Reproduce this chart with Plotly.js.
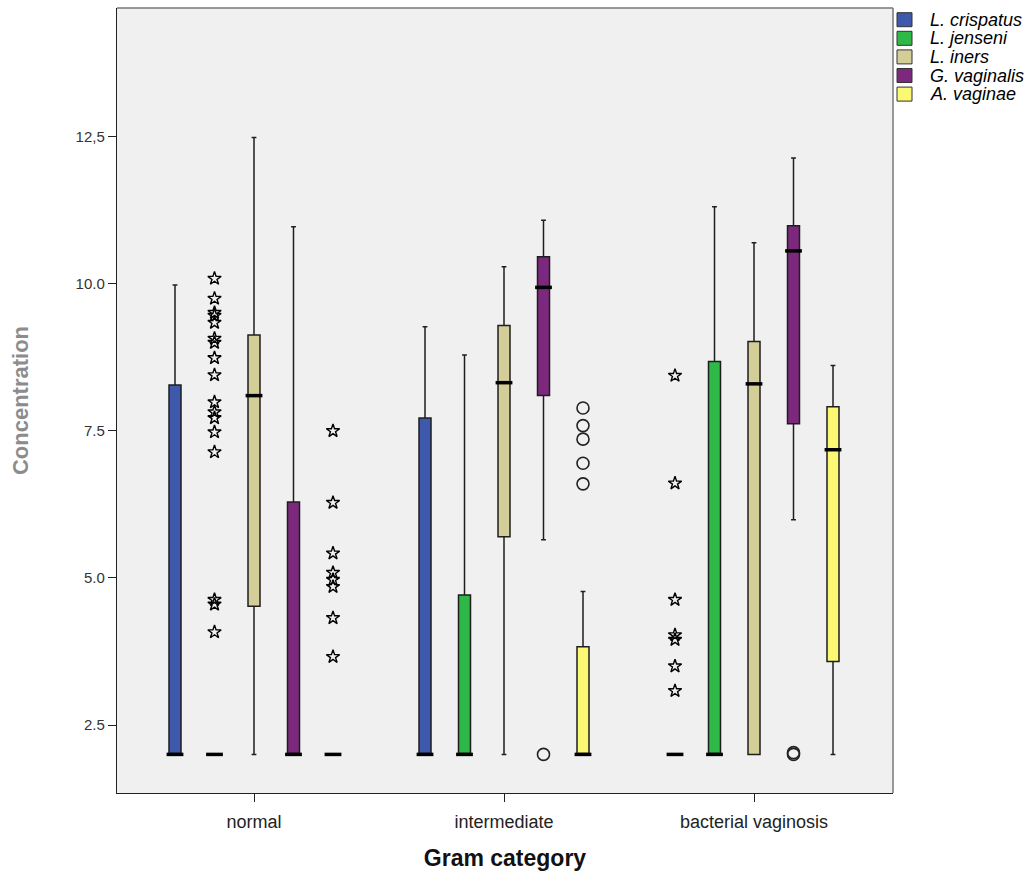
<!DOCTYPE html>
<html>
<head>
<meta charset="utf-8">
<script src="https://cdn.plot.ly/plotly-3.0.1.min.js"></script>
<style>html,body{margin:0;padding:0;background:#fff;}</style>
</head>
<body>
<div id="chart" style="width:1032px;height:876px;"></div>
<script>
// Gram categories on the x axis
const categories = ['normal', 'intermediate', 'bacterial vaginosis'];
const species = ['L. crispatus', 'L. jenseni', 'L. iners', 'G. vaginalis', 'A. vaginae'];
const colors = ['#3E58AC', '#2EB848', '#D3CE97', '#7C287D', '#FBF873'];

// Box statistics per species, one value per Gram category
const crispatusStats = {lower: [2, 2, 2], q1: [2, 2, 2], median: [2, 2, 2], q3: [8.28, 7.72, 2], upper: [9.98, 9.27, 2]};
const jenseniStats   = {lower: [2, 2, 2], q1: [2, 2, 2], median: [2, 2, 2], q3: [2, 4.71, 8.68], upper: [2, 8.79, 11.31]};
const inersStats     = {lower: [2, 2, 2], q1: [4.52, 5.70, 2], median: [8.10, 8.32, 8.30], q3: [9.13, 9.29, 9.02], upper: [12.49, 10.29, 10.70]};
const vaginalisStats = {lower: [2, 5.65, 5.99], q1: [2, 8.10, 7.62], median: [2, 9.94, 10.56], q3: [6.29, 10.46, 10.99], upper: [10.97, 11.08, 12.14]};
const vaginaeStats   = {lower: [2, 2, 2], q1: [2, 2, 3.58], median: [2, 2, 7.18], q3: [2, 3.83, 7.91], upper: [2, 4.77, 8.61]};
const allStats = [crispatusStats, jenseniStats, inersStats, vaginalisStats, vaginaeStats];

// Extreme values (stars), per species then per category
const crispatusExtremes = [[], [], [8.44, 6.61, 4.63, 4.03, 3.95, 3.50, 3.08]];
const jenseniExtremes   = [[10.09, 9.75, 9.51, 9.46, 9.34, 9.07, 9.00, 8.74, 8.45, 7.99, 7.82, 7.72, 7.48, 7.14, 4.63, 4.55, 4.08], [], []];
const vaginaeExtremes   = [[7.50, 6.28, 5.42, 5.09, 4.97, 4.85, 4.32, 3.66], [], []];
// Outliers (circles)
const vaginalisOutliers = [[], [2.0], [2.0, 2.03]];
const vaginaeOutliers   = [[], [7.89, 7.59, 7.36, 6.95, 6.60], []];

const extremes = [crispatusExtremes, jenseniExtremes, [[], [], []], [[], [], []], vaginaeExtremes];
const outliers = [[[], [], []], [[], [], []], [[], [], []], vaginalisOutliers, vaginaeOutliers];

// Grouped boxes along a numeric category axis
const groupStep = 0.158;
const boxWidth = 0.048;
function positions(s) {
  return categories.map((c, i) => i + (s - 2) * groupStep);
}

const FONT = '"Liberation Sans", Arial, sans-serif';
const traces = [];
species.forEach((name, s) => {
  const st = allStats[s];
  traces.push({
    type: 'box',
    name: name,
    x: positions(s),
    q1: st.q1, median: st.median, q3: st.q3,
    lowerfence: st.lower, upperfence: st.upper,
    width: boxWidth,
    whiskerwidth: 0.4,
    boxpoints: false,
    fillcolor: colors[s],
    line: {color: '#1e1e1e', width: 1.5},
    showlegend: false,
    hoverinfo: 'skip'
  });
});

// Thick median bars
const medX = [], medY = [];
species.forEach((name, s) => {
  const px = positions(s);
  allStats[s].median.forEach((m, i) => { medX.push(px[i]); medY.push(m); });
});
traces.push({
  type: 'scatter', mode: 'markers', x: medX, y: medY, showlegend: false, hoverinfo: 'skip',
  marker: {symbol: 'line-ew-open', size: 12, color: '#000', line: {color: '#000', width: 3.5}}
});

// Extremes and outliers
const starX = [], starY = [], circX = [], circY = [];
species.forEach((name, s) => {
  const px = positions(s);
  categories.forEach((c, i) => {
    extremes[s][i].forEach(v => { starX.push(px[i]); starY.push(v); });
    outliers[s][i].forEach(v => { circX.push(px[i]); circY.push(v); });
  });
});
traces.push({
  type: 'scatter', mode: 'markers', x: starX, y: starY, showlegend: false, hoverinfo: 'skip',
  marker: {symbol: 'star-open', size: 10, color: '#000', line: {color: '#000', width: 1.4}}
});
traces.push({
  type: 'scatter', mode: 'markers', x: circX, y: circY, showlegend: false, hoverinfo: 'skip',
  marker: {symbol: 'circle-open', size: 12, color: '#222', line: {color: '#222', width: 1.6}}
});

// Top and right edges of the plot frame, drawn lighter than the axes
const shapes = [
  {type: 'line', xref: 'paper', yref: 'paper', x0: 0, x1: 1, y0: 1, y1: 1, line: {color: '#777', width: 1.5}},
  {type: 'line', xref: 'paper', yref: 'paper', x0: 1, x1: 1, y0: 0, y1: 1, line: {color: '#777', width: 1.5}}
];
// Legend key: colour swatches beside the plot frame, one row per species
const annotations = [];
const rowTop = 11.7, rowStep = 18.6;
species.forEach((name, s) => {
  const cy = rowTop + rowStep * s;
  shapes.push({
    type: 'rect', xref: 'paper', yref: 'paper',
    xsizemode: 'pixel', ysizemode: 'pixel', xanchor: 1, yanchor: 1,
    x0: 4, x1: 19, y0: -(cy - 7), y1: -(cy + 7),
    fillcolor: colors[s], line: {color: '#333', width: 1}
  });
  annotations.push({
    xref: 'paper', yref: 'paper', x: 1, y: 1, xanchor: 'left', yanchor: 'middle',
    xshift: 35, yshift: -cy, showarrow: false, text: name,
    font: {family: FONT, size: 18, color: '#000', style: 'italic'}
  });
});

const layout = {
  width: 1032, height: 876,
  margin: {l: 117, r: 139, t: 8, b: 83},
  paper_bgcolor: '#ffffff',
  plot_bgcolor: '#f0f0f0',
  font: {family: FONT, size: 13, color: '#222'},
  showlegend: false,
  shapes: shapes,
  annotations: annotations,
  xaxis: {
    range: [-0.548, 2.556],
    tickvals: [0, 1, 2], ticktext: categories,
    ticks: 'outside', ticklen: 8, tickcolor: '#222', tickwidth: 1,
    ticklabelstandoff: 4,
    showgrid: false, zeroline: false,
    showline: true, linecolor: '#222', linewidth: 1.2,
    tickfont: {family: FONT, size: 18, color: '#222'},
    title: {text: 'Gram category', standoff: 19,
            font: {family: FONT, size: 23, color: '#111', weight: 'bold'}}
  },
  yaxis: {
    range: [1.344, 14.69],
    tickvals: [2.5, 5, 7.5, 10, 12.5],
    ticktext: ['2.5', '5.0', '7.5', '10.0', '12,5'],
    ticks: 'outside', ticklen: 8, tickcolor: '#222', tickwidth: 1,
    showgrid: false, zeroline: false,
    showline: true, linecolor: '#222', linewidth: 1.2,
    tickfont: {family: FONT, size: 15, color: '#333'},
    title: {text: 'Concentration', standoff: 40,
            font: {family: FONT, size: 22, color: '#8c8c8c', weight: 'bold'}}
  }
};

Plotly.newPlot('chart', traces, layout, {displayModeBar: false, staticPlot: true});
</script>
</body>
</html>
